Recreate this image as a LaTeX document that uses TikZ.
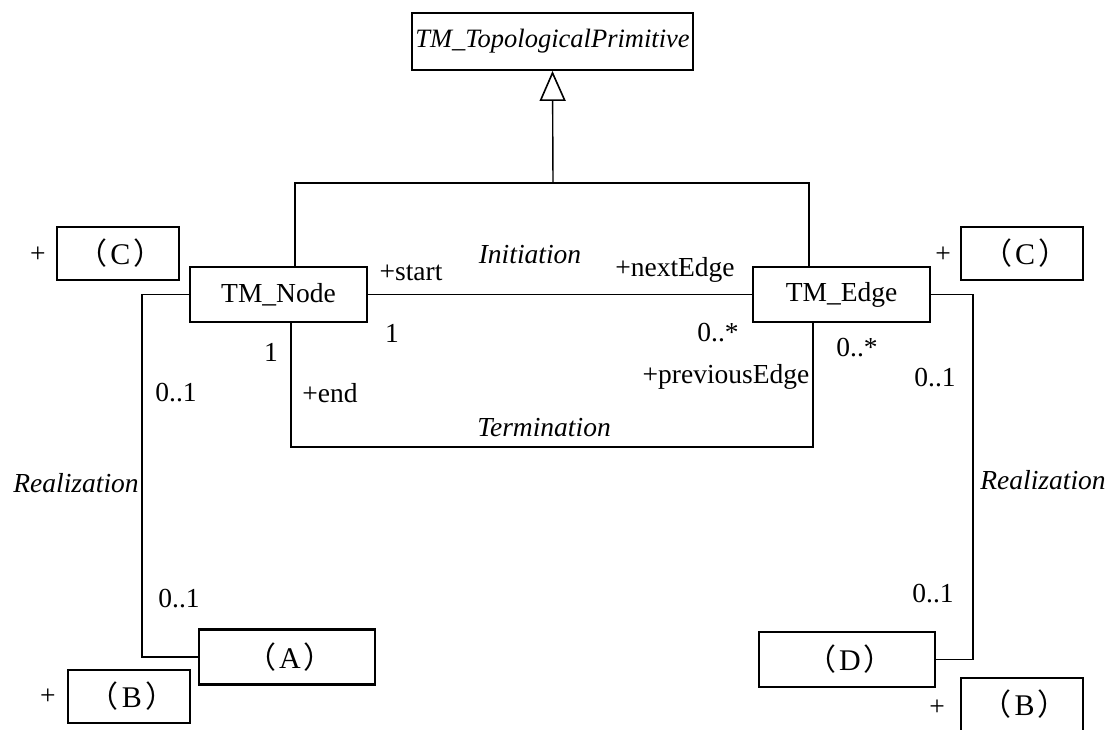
\documentclass[tikz,border=0pt]{standalone}
\usepackage{fontspec}
\setmainfont{Liberation Serif}
\newfontfamily\cjk{Noto Sans CJK SC}
\usetikzlibrary{arrows.meta}
\newcommand{\lbl}[1]{{\fontsize{30}{34}\selectfont\kern6pt{\cjk （}\kern3pt#1\kern3pt{\cjk ）}}}
\begin{document}
\begin{tikzpicture}[x=1pt,y=-1pt,
  every node/.style={font=\fontsize{27.5}{32}\selectfont, inner sep=0pt},
  cls/.style={draw, line width=2.4pt, minimum width=#1, minimum height=55pt},
  aux/.style={draw, line width=2pt, minimum width=122pt, minimum height=53pt},
  conn/.style={line width=1.4pt}]
\useasboundingbox (0,0) rectangle (1111,729);
% classes
\node[draw, line width=1.8pt, minimum width=281pt, minimum height=57pt, font=\fontsize{26.5}{30}\selectfont] (top) at (552.5,41.5) {\textit{TM\_TopologicalPrimitive}};
\node[cls=177pt] (node) at (278.5,294.5) {TM\_Node};
\node[cls=177pt] (edge) at (841.5,294.5) {TM\_Edge};
\node[cls=176pt] (A) at (287,657) {\lbl{A}};
\node[cls=176pt] (D) at (847,659.5) {\lbl{D}};
\node[aux] (Cl) at (117.5,253.5) {\lbl{C}};
\node[aux] (Cr) at (1022,253.5) {\lbl{C}};
\node[aux] (Bl) at (129,696.5) {\lbl{B}};
\node[aux] (Br) at (1021.5,704.5) {\lbl{B}};
% plus signs
\node (p1) at (38,255) {+};
\node (p2) at (943,255) {+};
\node (p3) at (48,697) {+};
\node (p4) at (937,708) {+};
% generalization
\coordinate (j) at (553,183);
\draw[conn] ([xshift=106pt]node.north west) |- (j) -| ([xshift=57pt]edge.north west);
\draw[conn, -{Triangle[open, length=30pt, width=26pt, line width=1.6pt]}] (j) -- (top.south);
% initiation
\draw[conn] (node.east) -- (edge.west);
% termination
\coordinate (t) at (553,447);
\draw[conn] ([xshift=102pt]node.south west) |- (t) -| ([xshift=61pt]edge.south west);
% realizations
\coordinate (rl) at (142,476);
\coordinate (rr) at (973,476);
\draw[conn] (node.west) -- (node.west -| rl) -- (A.west -| rl) -- (A.west);
\draw[conn] (edge.east) -- (edge.east -| rr) -- (D.east -| rr) -- (D.east);
% labels
\node (l1) at (411,273) {+start};
\node (l2) at (530,255) {\textit{Initiation}};
\node (l3) at (675,270) {+nextEdge};
\node (l4) at (392,333) {1};
\node (l5) at (718,333) {0..*};
\node (l6) at (271,352) {1};
\node (l7) at (330,393) {+end};
\node (l8) at (726,377) {+previousEdge};
\node (l9) at (544,428) {\textit{Termination}};
\node (l10) at (857,348) {0..*};
\node (l11) at (176,393) {0..1};
\node (l12) at (76,483) {\textit{Realization}};
\node (l13) at (179,599) {0..1};
\node (l14) at (935,378) {0..1};
\node (l15) at (1043,480) {\textit{Realization}};
\node (l16) at (933,594) {0..1};
\end{tikzpicture}
\end{document}
